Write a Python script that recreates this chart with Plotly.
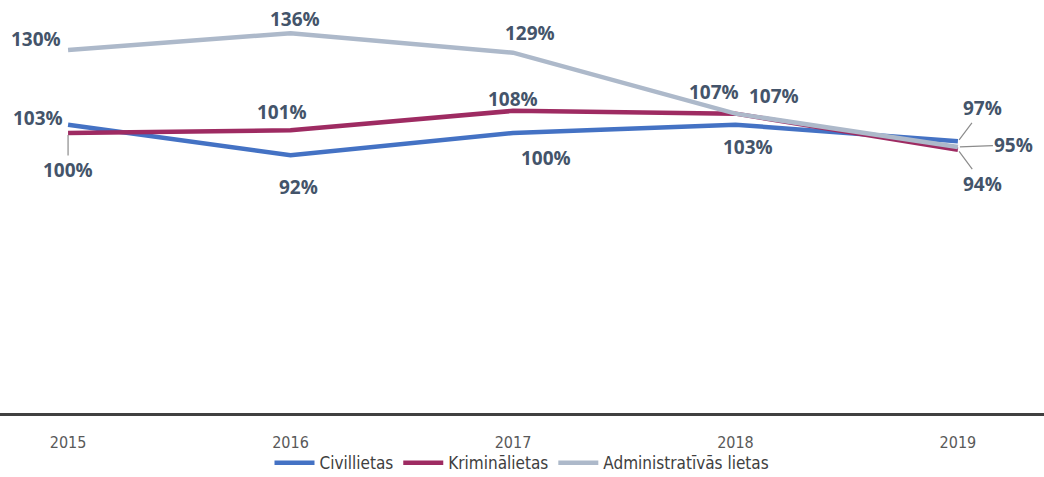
import plotly.graph_objects as go

years = ["2015", "2016", "2017", "2018", "2019"]
civil = [103, 92, 100, 103, 97]
krim = [100, 101, 108, 107, 94]
admin = [130, 136, 129, 107, 95]
series_names = ["Civillietas", "Kriminālietas", "Administratīvās lietas"]

colors = ["#4472C4", "#9E2B62", "#ADB9CA"]
label_color = "#44546A"

# label offsets in pixels (dx, dy, leader)
offsets = [
    [(-30, -7, False), (8, 32, False), (33, 25, False), (13, 22, False), (25, -33, True)],
    [(0, 37, True), (-9, -18, False), (0, -12, False), (-21, -22, False), (25, 34, True)],
    [(-32, -11, False), (4, -14, False), (17, -20, False), (39, -18, False), (56, -2, True)],
]

fig = go.Figure()
xi = list(range(len(years)))
all_vals = [civil, krim, admin]
for name, vals, col in zip(series_names, all_vals, colors):
    fig.add_trace(go.Scatter(
        x=xi, y=vals, mode="lines", name=name,
        line=dict(color=col, width=4.5),
        hoverinfo="skip",
    ))

annotations = []
for s, vals in enumerate(all_vals):
    for i, v in enumerate(vals):
        dx, dy, leader = offsets[s][i]
        base = dict(
            x=xi[i], y=v, xref="x", yref="y",
            text=f"{v}%",
            font=dict(family="Open Sans, DejaVu Sans", size=19, color=label_color, weight="bold"),
        )
        if leader:
            base.update(showarrow=True, arrowhead=0, arrowwidth=1.2, arrowcolor="#8C8C8C",
                        ax=dx, ay=dy, axref="pixel", ayref="pixel", standoff=2)
        else:
            base.update(showarrow=False, xshift=dx, yshift=-dy)
        annotations.append(base)

fig.update_layout(
    width=1044, height=477,
    margin=dict(l=0, r=0, t=0, b=64),
    paper_bgcolor="white", plot_bgcolor="white",
    showlegend=True,
    legend=dict(orientation="h", x=0.5, xanchor="center", xref="container",
                y=0.029, yanchor="middle", yref="container",
                bgcolor="rgba(0,0,0,0)",
                font=dict(family="Liberation Sans Narrow, DejaVu Sans Condensed, Arial Narrow", size=17, color="#404040"),
                itemwidth=40, tracegroupgap=0),
    annotations=annotations,
    xaxis=dict(
        range=[-0.306, 4.387], tickmode="array", tickvals=xi, ticktext=years,
        showgrid=False, zeroline=False, showline=True, linecolor="#404040", linewidth=3,
        ticks="", ticklabelstandoff=13, automargin=False,
        tickfont=dict(family="Liberation Sans Narrow, DejaVu Sans Condensed, Arial Narrow", size=16, color="#595959"),
    ),
    yaxis=dict(range=[-1, 148], visible=False, showgrid=False, zeroline=False, automargin=False),
)

fig.write_html("out.html", config={"displayModeBar": False},
               post_script="document.body.style.margin='0';")
